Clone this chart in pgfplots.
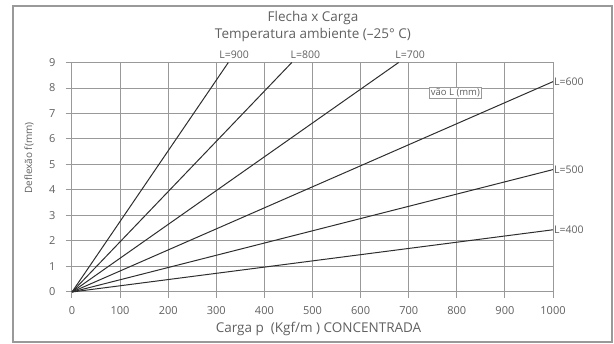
\documentclass[border=0pt]{standalone}
\usepackage{pgfplots}
\pgfplotsset{compat=1.18}
\usepackage{fontspec}
\setmainfont{Open Sans}
\definecolor{txt}{HTML}{606060}
\definecolor{grd}{HTML}{999999}
\definecolor{ln}{HTML}{2E2E2E}
\begin{document}
\begin{tikzpicture}[x=1pt,y=1pt]
\useasboundingbox (-72,-52) rectangle (542,292);
\draw[grd, line width=1.5pt] (-59,-50) rectangle (540,286);
\node[text=txt, font=\fontsize{13.5}{15}\selectfont] at (241,274) {Flecha x Carga};
\node[text=txt, font=\fontsize{13.5}{15}\selectfont] at (241,257) {Temperatura ambiente (--25° C)};
\node[text=txt, font=\fontsize{10}{11}\selectfont, rotate=90] at (-43,134) {Deflexão f(mm)};
\begin{axis}[at={(0,0)}, anchor=south west, scale only axis,
  width=481pt, height=229.5pt,
  xmin=0, xmax=1000, ymin=0, ymax=9,
  xtick={0,100,...,1000}, ytick={0,1,...,9},
  grid=major, major grid style={grd, line width=1pt},
  axis line style={grd, line width=1pt},
  tick style={grd, line width=1pt}, tick align=outside, major tick length=6pt,
  xtick pos=bottom, ytick pos=left,
  /pgf/number format/assume math mode=true,
  /pgf/number format/1000 sep={},
  ticklabel style={font=\fontsize{11}{12}\selectfont, text=txt},
  xticklabel style={yshift=-5pt},
  yticklabel style={xshift=-7pt},
  xlabel={Carga p\ \ (Kgf/m ) CONCENTRADA},
  xlabel style={at={(axis description cs:0.5,0)}, anchor=center, yshift=-37pt, xshift=6pt, font=\fontsize{13.5}{15}\selectfont, text=txt},
  clip=false,
]
\addplot[ln, line width=1pt] coordinates {(0,0) (1000,2.44)};
\addplot[ln, line width=1pt] coordinates {(0,0) (1000,4.8)};
\addplot[ln, line width=1pt] coordinates {(0,0) (1000,8.25)};
\addplot[ln, line width=1pt] coordinates {(0,0) (679,9)};
\addplot[ln, line width=1pt] coordinates {(0,0) (457,9)};
\addplot[ln, line width=1pt] coordinates {(0,0) (325,9)};
\begin{scope}[every node/.style={text=txt, font=\fontsize{10.5}{12}\selectfont, inner sep=1pt}]
\node[anchor=west] at (axis cs:1000,2.44) {L=400};
\node[anchor=west] at (axis cs:1000,4.8) {L=500};
\node[anchor=west] at (axis cs:1000,8.25) {L=600};
\node at (axis cs:337,9.32) {L=900};
\node at (axis cs:485,9.32) {L=800};
\node at (axis cs:703,9.32) {L=700};
\node[draw=grd, line width=0.7pt, inner sep=1.2pt, fill=white, font=\fontsize{9.5}{11}\selectfont] at (axis cs:797,7.82) {vão L (mm)};
\end{scope}
\end{axis}
\end{tikzpicture}
\end{document}
